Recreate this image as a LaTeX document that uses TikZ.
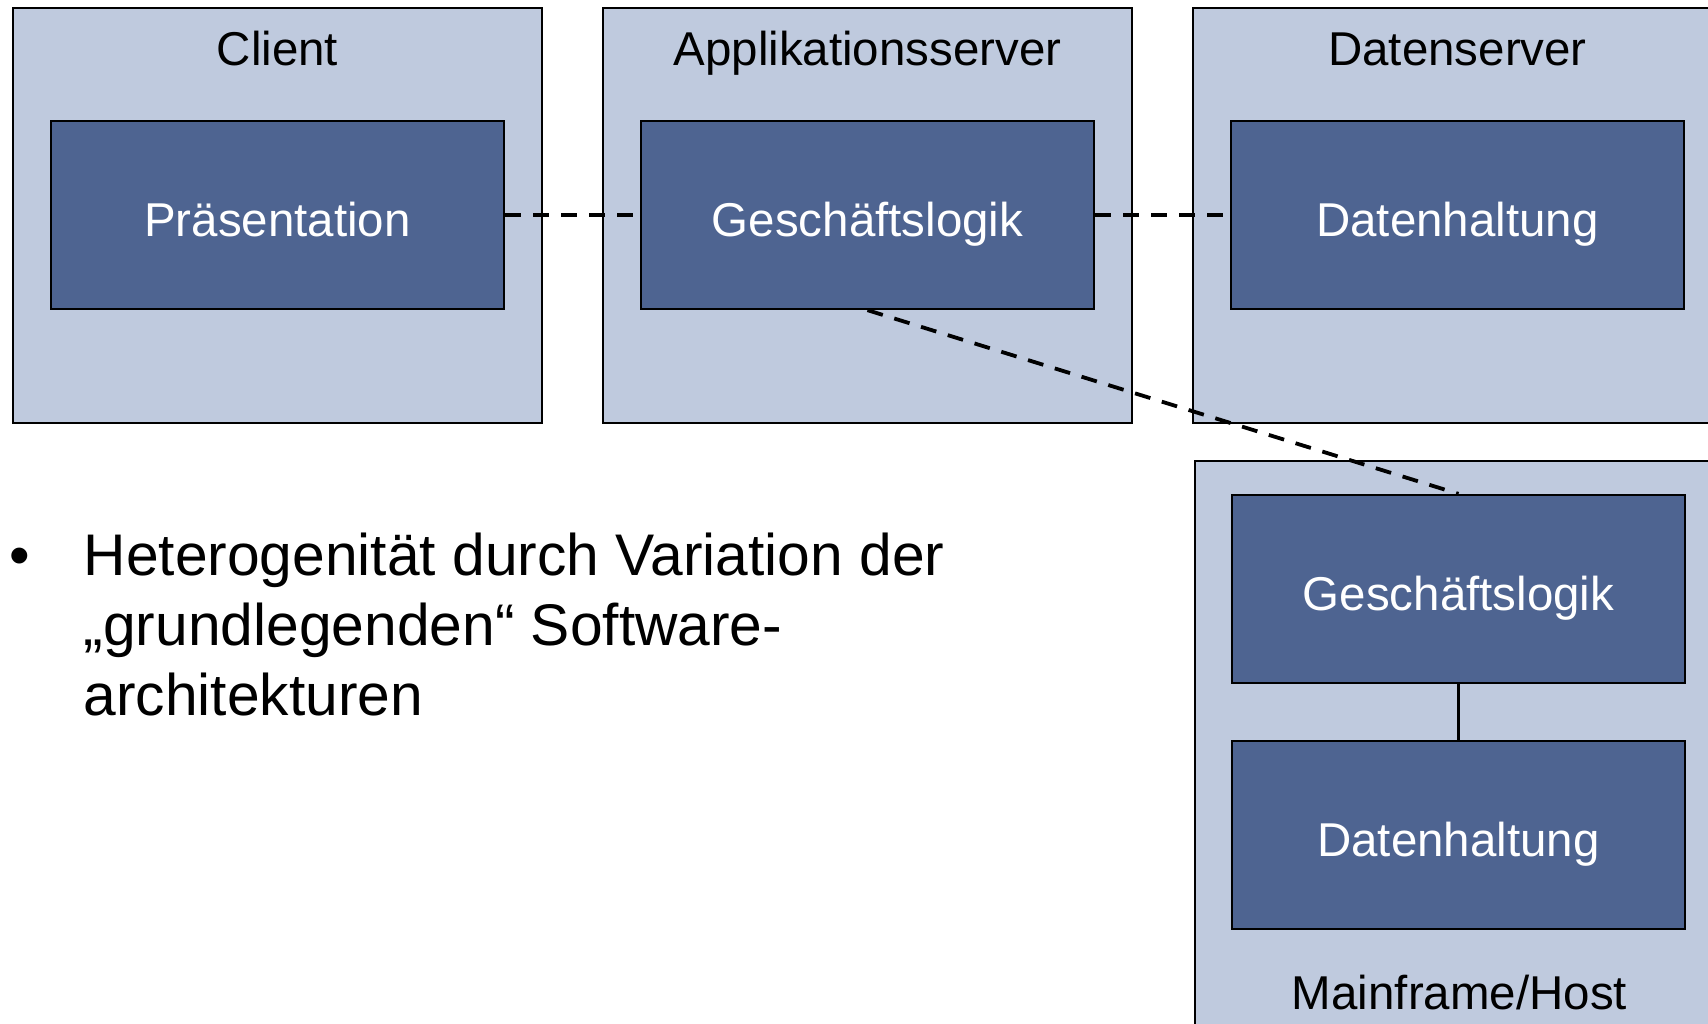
\documentclass[tikz,border=0pt]{standalone}
\usepackage{fontspec}
\setmainfont{Liberation Sans}
\definecolor{outerfill}{RGB}{191,202,222}
\definecolor{innerfill}{RGB}{78,100,145}
\begin{document}
\begin{tikzpicture}[x=0.01cm,y=-0.01cm,
  outerbox/.style={draw=black,line width=0.018cm,fill=outerfill,minimum width=5.29cm,minimum height=4.15cm,inner sep=0pt},
  innerbox/.style={draw=black,line width=0.022cm,fill=innerfill,minimum width=4.53cm,minimum height=1.88cm,inner sep=0pt,text=white,text height=0.42cm,text depth=0cm,font=\fontsize{13.5pt}{16pt}\selectfont},
  title/.style={anchor=base,font=\fontsize{13.5pt}{16pt}\selectfont,inner sep=0pt},
  link/.style={line width=0.038cm,dash pattern=on 0.16cm off 0.12cm}
]
\useasboundingbox (0,0) rectangle (1708,1023);
\clip (0,0) rectangle (1708,1023);
% outer containers
\node[outerbox] (client) at (277.5,215.5) {};
\node[outerbox] (app) at (867.5,215.5) {};
\node[outerbox] (ds) at (1457.5,215.5) {};
\node[outerbox,minimum height=6cm] (mf) at (1459.5,761) {};
% titles
\node[title] (tclient) at (277.5,65) {Client};
\node[title] (tapp) at (867.5,65) {Applikationsserver};
\node[title] (tds) at (1457.5,65) {Datenserver};
\node[title] (tmf) at (1459.5,1009) {Mainframe/Host};
% inner boxes
\node[innerbox] (pres) at (277.5,215) {Präsentation};
\node[innerbox] (gl) at (867.5,215) {Geschäftslogik};
\node[innerbox] (dh) at (1457.5,215) {Datenhaltung};
\node[innerbox] (mgl) at (1458.5,589) {Geschäftslogik};
\node[innerbox] (mdh) at (1458.5,835) {Datenhaltung};
% connectors
\draw[link] (pres.east) -- (gl.west);
\draw[link] (gl.east) -- (dh.west);
\draw[link] (gl.south) -- (mgl.north);
\draw[line width=0.025cm] (mgl.south) -- (mdh.north);
% bullet text
\node[anchor=base,inner sep=0pt,font=\fontsize{16.7pt}{19.9pt}\selectfont] (bul) at (20,575) {•};
\node[anchor=north west,inner sep=0pt,align=left,font=\fontsize{16.7pt}{19.9pt}\selectfont] (txt) at (83,532) {Heterogenität durch Variation der\\„grundlegenden“ Software-\\architekturen};
\end{tikzpicture}
\end{document}
